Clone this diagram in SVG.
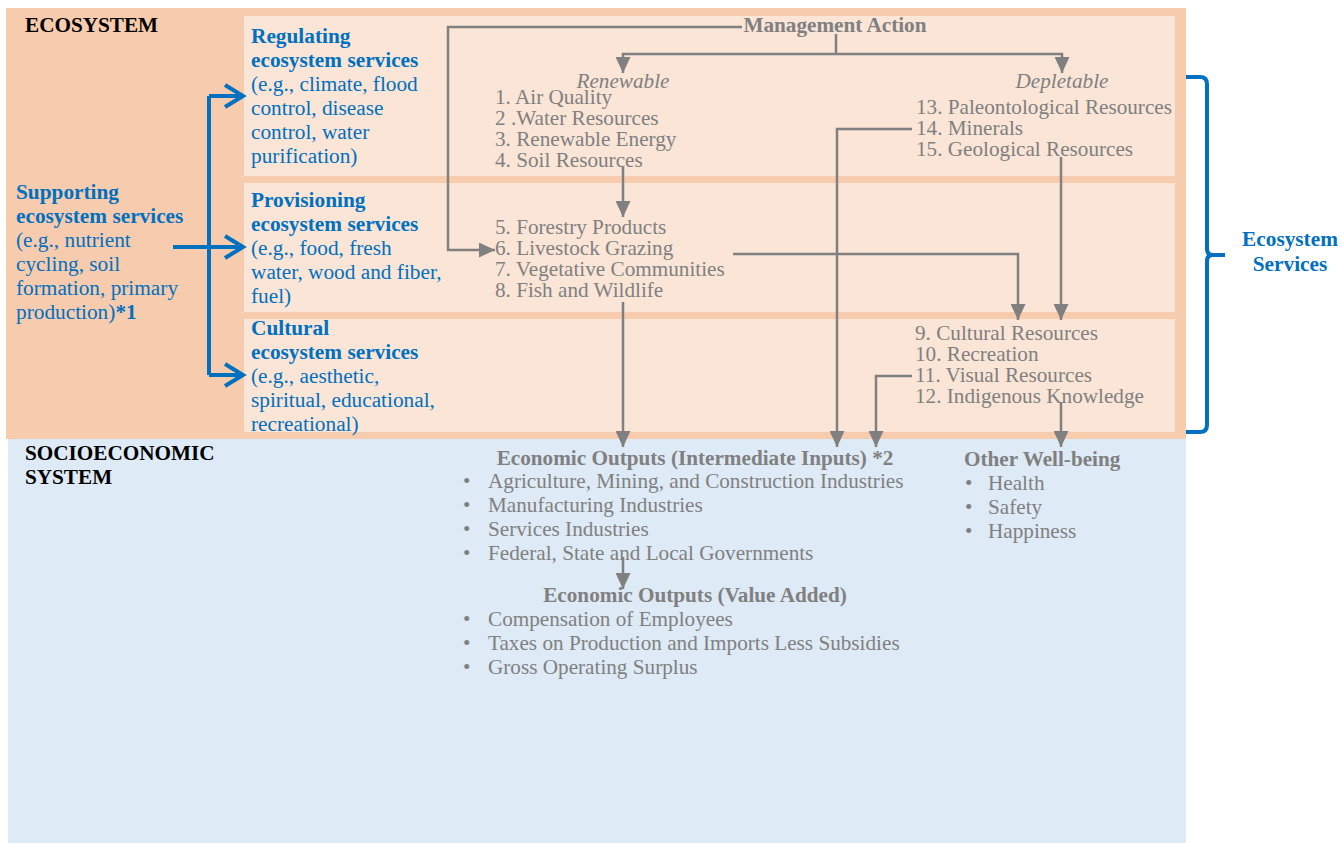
<svg xmlns="http://www.w3.org/2000/svg" width="1341" height="843" viewBox="0 0 1341 843">
<defs>
<style>
text{font-family:"Liberation Serif","Times New Roman",serif;}
.g{fill:#808080;font-size:21.2px;}
.gb{fill:#808080;font-size:21.2px;font-weight:bold;}
.gi{fill:#808080;font-size:21.2px;font-style:italic;}
.b{fill:#0070C0;font-size:21.3px;}
.bb{fill:#0070C0;font-size:21.3px;font-weight:bold;}
.k{fill:#000;font-size:21.2px;font-weight:bold;}
.gl{fill:none;stroke:#808080;stroke-width:2.5;}
.bl{fill:none;stroke:#0070C0;stroke-width:4;}
.inner{fill:#FAE5D7;}
</style>
<marker id="ga" viewBox="0 0 16 15" refX="16" refY="7.5" markerWidth="16" markerHeight="15" markerUnits="userSpaceOnUse" orient="auto"><path d="M0,0 L16,7.5 L0,15 z" fill="#808080"/></marker>
<marker id="ba" viewBox="0 0 20 24" refX="19" refY="12" markerWidth="20" markerHeight="24" markerUnits="userSpaceOnUse" orient="auto" overflow="visible"><path d="M1,1 L19,12 L1,23" fill="none" stroke="#0070C0" stroke-width="4"/></marker>
</defs>
<rect width="1341" height="843" fill="#fff"/>
<g id="socioeconomic">
<rect x="8" y="438" width="1178" height="405" fill="#DEEAF6"/>
<text class="k" x="25" y="460">SOCIOECONOMIC</text>
<text class="k" x="25" y="484">SYSTEM</text>
</g>
<g id="ecosystem">
<rect x="6" y="8" width="1180" height="431" fill="#F7CBAD"/>
<text class="k" x="25" y="32">ECOSYSTEM</text>
</g>
<g id="regulating">
<rect class="inner" x="244" y="16" width="931" height="160"/>
<text class="bb" x="251" y="43">Regulating</text>
<text class="bb" x="251" y="67">ecosystem services</text>
<text class="b" x="251" y="91">(e.g., climate, flood</text>
<text class="b" x="251" y="115">control, disease</text>
<text class="b" x="251" y="139">control, water</text>
<text class="b" x="251" y="163">purification)</text>
</g>
<g id="provisioning">
<rect class="inner" x="244" y="183" width="931" height="129"/>
<text class="bb" x="251" y="207">Provisioning</text>
<text class="bb" x="251" y="231">ecosystem services</text>
<text class="b" x="251" y="255">(e.g., food, fresh</text>
<text class="b" x="251" y="279">water, wood and fiber,</text>
<text class="b" x="251" y="303">fuel)</text>
</g>
<g id="cultural">
<rect class="inner" x="244" y="319" width="931" height="113"/>
<text class="bb" x="251" y="335">Cultural</text>
<text class="bb" x="251" y="359">ecosystem services</text>
<text class="b" x="251" y="383">(e.g., aesthetic,</text>
<text class="b" x="251" y="407">spiritual, educational,</text>
<text class="b" x="251" y="431">recreational)</text>
</g>
<g id="supporting">
<text class="bb" x="16" y="199">Supporting</text>
<text class="bb" x="16" y="223">ecosystem services</text>
<text class="b" x="16" y="247">(e.g., nutrient</text>
<text class="b" x="16" y="271">cycling, soil</text>
<text class="b" x="16" y="295">formation, primary</text>
<text class="b" x="16" y="319">production)<tspan font-weight="bold">*1</tspan></text>
</g>
<g id="management-action">
<text class="gb" x="835" y="32" text-anchor="middle">Management Action</text>
</g>
<g id="renewable">
<text class="gi" x="623" y="88" text-anchor="middle">Renewable</text>
<text class="g" x="495" y="104">1. Air Quality</text>
<text class="g" x="495" y="125">2 .Water Resources</text>
<text class="g" x="495" y="146">3. Renewable Energy</text>
<text class="g" x="495" y="167">4. Soil Resources</text>
</g>
<g id="provisioning-items">
<text class="g" x="495" y="234">5. Forestry Products</text>
<text class="g" x="495" y="255">6. Livestock Grazing</text>
<text class="g" x="495" y="276">7. Vegetative Communities</text>
<text class="g" x="495" y="297">8. Fish and Wildlife</text>
</g>
<g id="depletable">
<text class="gi" x="1062" y="88" text-anchor="middle">Depletable</text>
<text class="g" x="916" y="114">13. Paleontological Resources</text>
<text class="g" x="916" y="135">14. Minerals</text>
<text class="g" x="916" y="156">15. Geological Resources</text>
</g>
<g id="cultural-items">
<text class="g" x="915" y="340">9. Cultural Resources</text>
<text class="g" x="915" y="361">10. Recreation</text>
<text class="g" x="915" y="382">11. Visual Resources</text>
<text class="g" x="915" y="403">12. Indigenous Knowledge</text>
</g>
<g id="intermediate-inputs">
<text class="gb" x="695" y="465" text-anchor="middle">Economic Outputs (Intermediate Inputs) *2</text>
<text class="g" x="463" y="488">•</text><text class="g" x="488" y="488">Agriculture, Mining, and Construction Industries</text>
<text class="g" x="463" y="512">•</text><text class="g" x="488" y="512">Manufacturing Industries</text>
<text class="g" x="463" y="536">•</text><text class="g" x="488" y="536">Services Industries</text>
<text class="g" x="463" y="560">•</text><text class="g" x="488" y="560">Federal, State and Local Governments</text>
</g>
<g id="value-added">
<text class="gb" x="695" y="602" text-anchor="middle">Economic Outputs (Value Added)</text>
<text class="g" x="463" y="626">•</text><text class="g" x="488" y="626">Compensation of Employees</text>
<text class="g" x="463" y="650">•</text><text class="g" x="488" y="650">Taxes on Production and Imports Less Subsidies</text>
<text class="g" x="463" y="674">•</text><text class="g" x="488" y="674">Gross Operating Surplus</text>
</g>
<g id="well-being">
<text class="gb" x="964" y="466">Other Well-being</text>
<text class="g" x="965" y="490">•</text><text class="g" x="988" y="490">Health</text>
<text class="g" x="965" y="514">•</text><text class="g" x="988" y="514">Safety</text>
<text class="g" x="965" y="538">•</text><text class="g" x="988" y="538">Happiness</text>
</g>
<g id="ecosystem-services-label">
<path class="bl" d="M1186,77 L1200,77 Q1207,77 1207,84 L1207,249 Q1207,255 1213,255 L1225,255 M1213,255 Q1207,255 1207,261 L1207,425 Q1207,432 1200,432 L1186,432"/>
<text class="bb" x="1290" y="246" text-anchor="middle">Ecosystem</text>
<text class="bb" x="1290" y="271" text-anchor="middle">Services</text>
</g>
<g id="connectors">
<path class="bl" d="M209,96 L209,375"/>
<path class="bl" d="M209,96 L243,96" marker-end="url(#ba)"/>
<path class="bl" d="M173,247 L243,247" marker-end="url(#ba)"/>
<path class="bl" d="M209,375 L243,375" marker-end="url(#ba)"/>
<path class="gl" d="M742,27 L448,27 L448,250 L495,250" marker-end="url(#ga)"/>
<path class="gl" d="M836,34 L836,54"/>
<path class="gl" d="M836,54 L623,54 L623,73" marker-end="url(#ga)"/>
<path class="gl" d="M836,54 L1062,54 L1062,73" marker-end="url(#ga)"/>
<path class="gl" d="M623,167 L623,217" marker-end="url(#ga)"/>
<path class="gl" d="M623,302 L623,447" marker-end="url(#ga)"/>
<path class="gl" d="M912,129 L837,129 L837,447" marker-end="url(#ga)"/>
<path class="gl" d="M733,254 L1018,254 L1018,320" marker-end="url(#ga)"/>
<path class="gl" d="M1061,157 L1061,320" marker-end="url(#ga)"/>
<path class="gl" d="M912,376 L876,376 L876,447" marker-end="url(#ga)"/>
<path class="gl" d="M1061,402 L1061,447" marker-end="url(#ga)"/>
<path class="gl" d="M623,557 L623,589" marker-end="url(#ga)"/>
</g>
</svg>
